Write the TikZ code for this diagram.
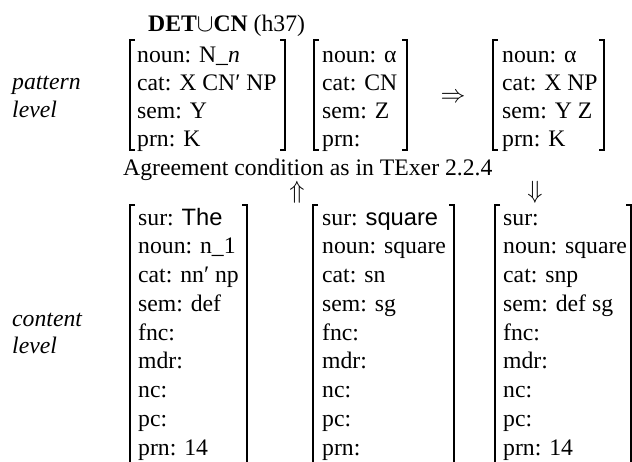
\documentclass[tikz,border=0pt]{standalone}
\usepackage{fontspec}
\setmainfont{Liberation Serif}
\setsansfont{Liberation Sans}
\newcommand\fsbracks[4]{%
  \draw[brk] (#1+5,#3) -- (#1,#3) -- (#1,#4) -- (#1+5,#4);
  \draw[brk] (#2-5,#3) -- (#2,#3) -- (#2,#4) -- (#2-5,#4);}
\begin{document}
\begin{tikzpicture}[x=1pt,y=-1pt,
  txt/.style={inner sep=0pt, anchor=base west, font=\fontsize{23.7}{28.5}\selectfont},
  lbl/.style={txt, font=\fontsize{23.7}{28.5}\selectfont\itshape},
  sym/.style={inner sep=0pt, anchor=center, font=\fontsize{23.7}{28.5}\selectfont},
  brk/.style={line width=1.2pt}]
\path[use as bounding box] (0,0) rectangle (632,461);
\clip (0,0) rectangle (632,461);

% level labels
\node[lbl] (pl1) at (12,89) {pattern};
\node[lbl] (pl2) at (12,117) {level};
\node[lbl] (cl1) at (12,326) {content};
\node[lbl] (cl2) at (12,353) {level};

% heading
\node[txt] (head) at (148,31) {\textbf{DET}$\cup$\textbf{CN} (h37)};

% pattern boxes
\fsbracks{130}{285}{40}{150}
\node[txt] (p1a) at (137,62.5) {noun: N\_\textit{n}};
\node[txt] (p1b) at (137,90.5) {cat: X CN′ NP};
\node[txt] (p1c) at (137,118.5) {sem: Y};
\node[txt] (p1d) at (137,146.5) {prn: K};

\fsbracks{314}{407}{40}{150}
\node[txt] (p2a) at (322,62.5) {noun: α};
\node[txt] (p2b) at (322,90.5) {cat: CN};
\node[txt] (p2c) at (322,118.5) {sem: Z};
\node[txt] (p2d) at (322,146.5) {prn:};

\node[sym] (impl) at (453,98) {$\Rightarrow$};

\fsbracks{493}{604}{40}{150}
\node[txt] (p3a) at (502,62.5) {noun: α};
\node[txt] (p3b) at (502,90.5) {cat: X NP};
\node[txt] (p3c) at (502,118.5) {sem: Y Z};
\node[txt] (p3d) at (502,146.5) {prn: K};

% agreement line and arrows
\node[txt] (agr) at (123,175) {Agreement condition as in TExer 2.2.4};
\node[sym] (up) at (297,192.5) {$\Uparrow$};
\node[sym] (down) at (535,192.5) {$\Downarrow$};

% content boxes
\fsbracks{130}{247}{205}{470}
\node[txt] (c1a) at (138,225) {sur: \textsf{The}};
\node[txt] (c1b) at (138,253.75) {noun: n\_1};
\node[txt] (c1c) at (138,282.5) {cat: nn′ np};
\node[txt] (c1d) at (138,311.25) {sem: def};
\node[txt] (c1e) at (138,340) {fnc:};
\node[txt] (c1f) at (138,368.75) {mdr:};
\node[txt] (c1g) at (138,397.5) {nc:};
\node[txt] (c1h) at (138,426.25) {pc:};
\node[txt] (c1i) at (138,455) {prn: 14};

\fsbracks{313}{454}{205}{470}
\node[txt] (c2a) at (322,225) {sur: \textsf{square}};
\node[txt] (c2b) at (322,253.75) {noun: square};
\node[txt] (c2c) at (322,282.5) {cat: sn};
\node[txt] (c2d) at (322,311.25) {sem: sg};
\node[txt] (c2e) at (322,340) {fnc:};
\node[txt] (c2f) at (322,368.75) {mdr:};
\node[txt] (c2g) at (322,397.5) {nc:};
\node[txt] (c2h) at (322,426.25) {pc:};
\node[txt] (c2i) at (322,455) {prn:};

\fsbracks{495}{631}{205}{470}
\node[txt] (c3a) at (503,225) {sur:};
\node[txt] (c3b) at (503,253.75) {noun: square};
\node[txt] (c3c) at (503,282.5) {cat: snp};
\node[txt] (c3d) at (503,311.25) {sem: def sg};
\node[txt] (c3e) at (503,340) {fnc:};
\node[txt] (c3f) at (503,368.75) {mdr:};
\node[txt] (c3g) at (503,397.5) {nc:};
\node[txt] (c3h) at (503,426.25) {pc:};
\node[txt] (c3i) at (503,455) {prn: 14};
\end{tikzpicture}
\end{document}
